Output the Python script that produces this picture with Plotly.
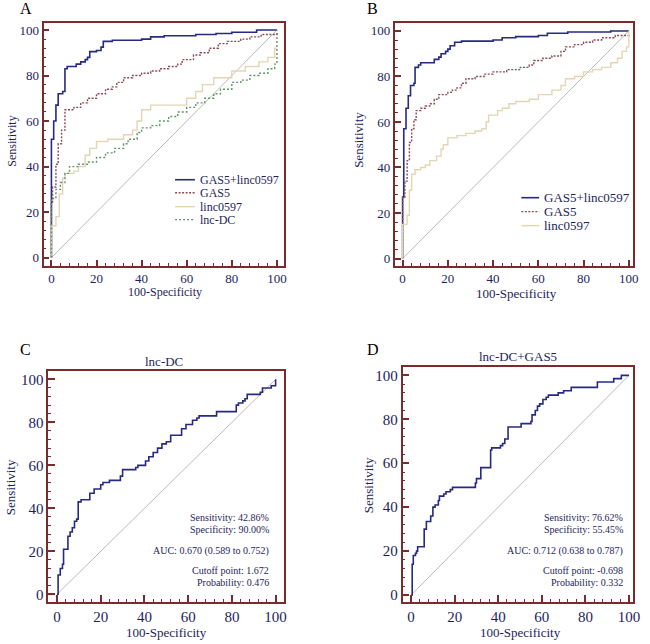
import plotly.graph_objects as go

# ---------------- data ----------------
# Panel A
A_COMBO_X = [0, 0, 1, 2, 3, 5, 6, 7, 11, 13, 15, 16, 17, 20, 22, 23, 27, 40, 44, 50, 64, 73, 80, 91, 100]
A_COMBO_Y = [0, 52, 60, 67, 72, 73, 83, 84, 85, 86, 87, 88, 90.5, 91, 92.5, 95, 95.5, 96, 97, 97.5, 98, 98.5, 99, 100, 100]
A_GAS5_X = [0, 0, 0.5, 2, 3, 4.5, 6, 10, 13, 16, 20, 24, 27, 29, 32, 36, 40, 44, 48, 52, 56, 58, 63, 66, 70, 74, 78, 84, 88, 93, 100]
A_GAS5_Y = [0, 24, 31, 41, 50, 56, 65, 66, 68, 70, 72, 74, 75, 77, 79, 80, 81, 82, 83, 84, 85, 87, 89, 90, 92, 94, 95, 96, 97, 98, 99]
A_LINC_X = [0, 0, 2, 3.5, 5, 6, 10, 12, 15, 17, 20, 25, 32, 36, 38, 40, 44, 56, 60, 64, 67, 72, 80, 86, 92, 96, 99, 100]
A_LINC_Y = [0, 14, 18, 28, 35, 37, 38, 40, 45, 48, 51, 52, 54, 56, 60, 65, 67, 67, 70, 73, 76, 79, 82, 84, 86, 88, 92, 92]
A_LNCDC_X = [0, 0, 2, 4, 6, 8, 12, 16, 20, 24, 28, 32, 34, 38, 40, 44, 48, 52, 56, 60, 64, 68, 72, 75, 80, 84, 88, 92, 96, 99, 100, 100]
A_LNCDC_Y = [0, 26, 30, 33, 37, 40, 41, 42, 44, 46, 48, 50, 52, 55, 57, 58, 60, 62, 64, 66, 68, 70, 72, 74, 77, 78, 80, 81, 83, 85, 86, 100]

# Panel B
B_COMBO_X = [0, 0, 0.5, 1.5, 2.5, 3.5, 5, 5.5, 7, 8, 14, 16, 17, 19, 20, 21, 23, 26, 40, 44, 50, 60, 64, 73, 92, 100]
B_COMBO_Y = [0, 27, 57, 66, 71.5, 76, 77, 84, 85, 86, 87.5, 88.5, 90, 91, 92, 93.5, 95, 95.5, 96, 97, 97.5, 98, 99, 99.5, 100, 100]
B_GAS5_X = [0, 0, 1, 2, 3, 4, 5, 6, 8, 10, 12, 14, 16, 20, 22, 24, 26, 28, 32, 36, 40, 46, 52, 56, 58, 62, 66, 70, 72, 76, 80, 84, 88, 94, 100]
B_GAS5_Y = [0, 27, 34, 43, 51, 57, 61, 65, 66, 67, 68, 70, 72, 73, 74, 75, 77, 79, 80, 81, 82, 83, 84, 85, 87, 88, 89, 91, 93, 94, 95, 96, 97, 98, 99]
B_LINC_X = [0, 0, 2, 3, 4, 5.5, 8, 10, 12, 15, 17, 18, 20, 24, 28, 32, 35, 37, 38, 42, 44, 47, 50, 56, 60, 66, 70, 72, 76, 80, 84, 88, 92, 95, 97, 99, 100, 100]
B_LINC_Y = [0, 15, 19, 30, 37, 39, 40, 41, 43, 45, 48, 50, 53, 54, 55, 56, 57, 60, 63, 65, 66, 68, 69, 70, 72, 74, 76, 79, 80, 82, 83, 84, 86, 88, 91, 93, 93, 100]

# Panel C (lnc-DC)
C_X = [0, 0.5, 1.5, 2.5, 3, 5, 6, 7, 8, 9, 9.7, 11, 15, 17, 20, 21, 24, 29, 30, 36, 37, 40.5, 42, 44, 46, 48, 50, 52, 57, 59, 62, 64, 65, 73, 82, 83, 85, 86, 87, 93, 94, 98, 100, 100]
C_Y = [0, 9, 12, 14, 21, 27, 29, 31, 34, 35, 43, 44, 47, 49, 51, 52, 53, 55, 58, 59, 60, 62, 64, 66, 68, 70, 71, 74, 77, 79, 81, 82, 83, 85, 88, 89, 90, 91, 93, 94, 96, 97, 97, 100]

# Panel D (lnc-DC+GAS5)
D_X = [0, 0.5, 1, 2, 2.5, 3, 6, 7, 9, 10, 11, 12.5, 13, 15, 16, 18, 19, 29.5, 30, 32, 36.5, 37, 41, 42, 43, 44.5, 50.5, 55, 55.5, 57, 58, 59, 60.5, 62, 63, 67.5, 70, 73.5, 85.5, 93, 96.5, 100]
D_Y = [0, 14, 18, 19, 20, 22, 30, 33.5, 36, 40, 41, 43, 45, 46, 47, 48, 49, 51, 53, 58, 66, 67, 68, 69, 71, 76.5, 78, 79, 82, 84, 86, 87, 89, 90, 91, 92, 93, 94.5, 97, 98.5, 100, 100]

DIAG = [0, 100]
TICKS = [0, 20, 40, 60, 80, 100]

NAMES = ["GAS5+linc0597", "GAS5", "linc0597", "lnc-DC"]
X_TITLE = "100-Specificity"
Y_TITLE = "Sensitivity"
C_TITLE = "lnc-DC"
D_TITLE = "lnc-DC+GAS5"
C_STATS = ["Sensitivity: 42.86%", "Specificity: 90.00%", "AUC: 0.670 (0.589 to 0.752)", "Cutoff point: 1.672", "Probability: 0.476"]
D_STATS = ["Sensitivity: 76.62%", "Specificity: 55.45%", "AUC: 0.712 (0.638 to 0.787)", "Cutoff point: -0.698", "Probability: 0.332"]

# ---------------- style ----------------
W, H = 650, 644
FRAME = "#7a2b2b"
NAVY = "#262a80"
TXT = "#1e1e5a"
MAROON = "#8c4b55"
BEIGE = "#e4d6b4"
GREEN = "#5f9466"
GREY = "#a8a8a8"
FONT = "Liberation Serif"
STYLES = [(NAVY, "solid", 1.6), (MAROON, "2px,1.5px", 1.4), (BEIGE, "solid", 1.4), (GREEN, "2px,2px", 1.4)]


def px(x):
    return x / W


def py(y):
    return 1 - y / H


fig = go.Figure()


def ax(n):
    return "" if n == 1 else str(n)


def curve(xs, ys, name, style, n):
    color, dash, width = style
    fig.add_trace(go.Scatter(
        x=xs, y=ys, mode="lines", name=name, line_shape="hv",
        line=dict(color=color, dash=dash, width=width),
        xaxis="x" + ax(n), yaxis="y" + ax(n), showlegend=False, hoverinfo="skip"))


def diag(n):
    fig.add_trace(go.Scatter(
        x=DIAG, y=DIAG, mode="lines", line=dict(color=GREY, width=0.8),
        xaxis="x" + ax(n), yaxis="y" + ax(n), showlegend=False, hoverinfo="skip"))


# Panel A
diag(1)
curve(A_COMBO_X, A_COMBO_Y, NAMES[0], STYLES[0], 1)
curve(A_GAS5_X, A_GAS5_Y, NAMES[1], STYLES[1], 1)
curve(A_LINC_X, A_LINC_Y, NAMES[2], STYLES[2], 1)
curve(A_LNCDC_X, A_LNCDC_Y, NAMES[3], STYLES[3], 1)
# Panel B
diag(2)
curve(B_COMBO_X, B_COMBO_Y, NAMES[0], STYLES[0], 2)
curve(B_GAS5_X, B_GAS5_Y, NAMES[1], STYLES[1], 2)
curve(B_LINC_X, B_LINC_Y, NAMES[2], STYLES[2], 2)
# Panel C
diag(3)
curve(C_X, C_Y, C_TITLE, STYLES[0], 3)
# Panel D
diag(4)
curve(D_X, D_Y, D_TITLE, STYLES[0], 4)


def axis(dom, rng, tsize, tlen):
    return dict(
        domain=dom, range=rng, showline=True, linecolor=FRAME, linewidth=1.7, mirror=True,
        ticks="inside", ticklen=tlen, tickwidth=1.5, tickcolor=FRAME, tickvals=TICKS,
        minor=dict(tick0=0, dtick=4, ticks="inside", ticklen=3, tickwidth=1.2, tickcolor=FRAME),
        showgrid=False, zeroline=False, fixedrange=True,
        tickfont=dict(family=FONT, size=tsize, color=TXT),
    )


# frames (reference pixels): A x44-287 y23-266 ; B x399-640 y23-266 ; C x49-287 y372-603 ; D x407-640 y368-603
layout_axes = dict(
    xaxis=axis([px(44), px(287)], [-3.5, 103.1], 13, 6),
    yaxis=axis([py(266), py(23)], [-3.5, 103.1], 13, 6),
    xaxis2=axis([px(399), px(640)], [-3.5, 101.9], 13, 6),
    yaxis2=axis([py(266), py(23)], [-3.1, 103.5], 13, 6),
    xaxis3=axis([px(49), px(287)], [-3.9, 103.8], 15, 7),
    yaxis3=axis([py(603), py(372)], [-3.6, 103.7], 15, 7),
    xaxis4=axis([px(407), px(640)], [-3.9, 101.9], 15, 7),
    yaxis4=axis([py(603), py(368)], [-3.2, 103.6], 15, 7),
)
for k in ["xaxis", "xaxis2", "xaxis3", "xaxis4"]:
    layout_axes[k]["anchor"] = "y" + k[5:]
for k in ["yaxis", "yaxis2", "yaxis3", "yaxis4"]:
    layout_axes[k]["anchor"] = "x" + k[5:]

annotations = []
shapes = []


def text(s, x, y, size, color=TXT, xanchor="center", angle=0):
    annotations.append(dict(text=s, x=px(x), y=py(y), xref="paper", yref="paper", showarrow=False,
                            xanchor=xanchor, yanchor="middle", textangle=angle,
                            font=dict(family=FONT, size=size, color=color)))


# panel letters
for lab, x, y in [("A", 26, 9), ("B", 377, 9), ("C", 26, 350), ("D", 377, 350)]:
    text(lab, x, y, 16, color="#000000")
# axis titles
for x, y, s in [(167, 292, 12), (522, 294, 13), (168, 633, 13), (526, 633, 13)]:
    text(X_TITLE, x, y, s)
for x, y, s in [(12, 141, 12), (363, 140, 13), (10, 488, 13), (372, 486, 13)]:
    text(Y_TITLE, x, y, s, angle=-90)
# panel titles
text(C_TITLE, 166, 362, 13)
text(D_TITLE, 524, 357, 13)
# stats
for stats, xr in [(C_STATS, 274), (D_STATS, 632)]:
    for s, yy in zip(stats, [518, 530, 552, 571, 583]):
        text(s, xr, yy, 10, xanchor="right")

# legends (key drawn as sample line + label)
for names, x0, x1, ys, fs in [(NAMES, 177, 197, [180, 193, 207, 220], 12),
                              (NAMES[:3], 527, 545, [198, 212, 226], 13)]:
    for i, (nm, yy) in enumerate(zip(names, ys)):
        color, dash, width = STYLES[i]
        shapes.append(dict(type="line", xref="paper", yref="paper", x0=px(x0), x1=px(x1), y0=py(yy), y1=py(yy),
                           line=dict(color=color, dash=dash, width=width)))
        text(nm, x1 + 3, yy, fs, xanchor="left")

fig.update_layout(
    width=W, height=H, autosize=False,
    margin=dict(l=0, r=0, t=0, b=0),
    paper_bgcolor="white", plot_bgcolor="white",
    showlegend=False,
    annotations=annotations, shapes=shapes,
    **layout_axes,
)

# remove the browser's default page margin so the 650x644 figure fills the window exactly
fig.write_html("out.html", config={"displayModeBar": False},
               post_script="document.body.style.margin='0';document.body.style.overflow='hidden';")
